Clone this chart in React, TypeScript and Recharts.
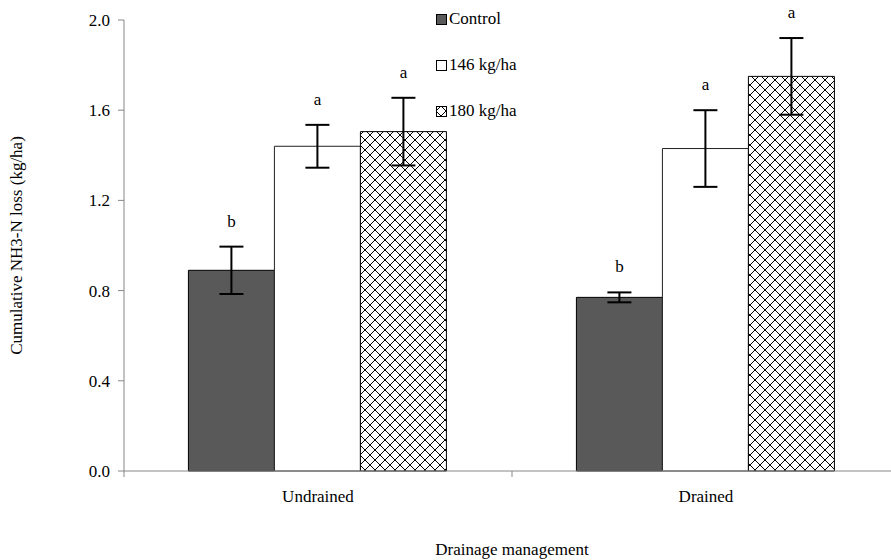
import React from "react";
import {
  BarChart,
  Bar,
  XAxis,
  YAxis,
  ErrorBar,
  LabelList,
} from "recharts";

const categories = ["Undrained", "Drained"];
const controlValues = [0.89, 0.77];
const controlErrors = [0.105, 0.022];
const n146Values = [1.44, 1.43];
const n146Errors = [0.095, 0.17];
const n180Values = [1.505, 1.75];
const n180Errors = [0.15, 0.17];
const controlLetters = ["b", "b"];
const n146Letters = ["a", "a"];
const n180Letters = ["a", "a"];
const yTicks = [0, 0.4, 0.8, 1.2, 1.6, 2.0];

const data = categories.map((name, i) => ({
  name,
  control: controlValues[i],
  controlErr: controlErrors[i],
  n146: n146Values[i],
  n146Err: n146Errors[i],
  n180: n180Values[i],
  n180Err: n180Errors[i],
}));

const FONT = "Liberation Serif";
const AXIS = "#868686";

// letter sits above the top of the error bar
const makeLetter = (letters: string[], errors: number[]) => (props: any) => {
  const { x, y, width, height, value, index } = props;
  const pxPerUnit = value ? height / value : 0;
  const top = y - errors[index] * pxPerUnit;
  return (
    <text
      x={x + width / 2}
      y={top - 20}
      textAnchor="middle"
      fontFamily={FONT}
      fontSize={17}
      fill="#000"
    >
      {letters[index]}
    </text>
  );
};

const XTick = (props: any) => {
  const { x, y, payload, index, visibleTicksCount } = props;
  const off = payload?.offset ?? 0;
  const axisY = y - 6;
  return (
    <g>
      <line x1={x - off} y1={axisY} x2={x - off} y2={axisY + 6} stroke={AXIS} />
      {index === (visibleTicksCount ?? categories.length) - 1 && (
        <line x1={x + off} y1={axisY} x2={x + off} y2={axisY + 6} stroke={AXIS} />
      )}
      <text
        x={x}
        y={axisY + 25}
        dy="0.35em"
        textAnchor="middle"
        fontFamily={FONT}
        fontSize={17}
        fill="#000"
      >
        {payload.value}
      </text>
    </g>
  );
};

const legendItems = [
  { label: "Control", fill: "#595959" },
  { label: "146 kg/ha", fill: "#ffffff" },
  { label: "180 kg/ha", fill: "url(#lattice)" },
];

const LegendBox = () => (
  <div
    style={{
      position: "absolute",
      left: 436,
      top: -4,
      fontFamily: FONT,
      fontSize: 17,
      color: "#000",
    }}
  >
    {legendItems.map((it) => (
      <div
        key={it.label}
        style={{ display: "flex", alignItems: "center", height: 46 }}
      >
        <svg width={11} height={11} style={{ marginRight: 2 }}>
          <rect x={0.5} y={0.5} width={10} height={10} fill={it.fill} stroke="#000" />
        </svg>
        <span style={{ fontFamily: FONT }}>{it.label}</span>
      </div>
    ))}
  </div>
);

export default function App() {
  return (
    <div
      style={{
        position: "absolute",
        left: 0,
        top: 0,
        width: 891,
        height: 560,
        overflow: "hidden",
        background: "#fff",
        fontFamily: FONT,
      }}
    >
      <svg width={0} height={0} style={{ position: "absolute" }}>
        <defs>
          <pattern id="lattice" width={10} height={10} patternUnits="userSpaceOnUse">
            <rect width={10} height={10} fill="#fff" />
            <path
              d="M0 5 L5 0 L10 5 L5 10 Z"
              fill="none"
              stroke="#000"
              strokeWidth={1}
              shapeRendering="crispEdges"
            />
          </pattern>
        </defs>
      </svg>
      <BarChart
        width={910}
        height={560}
        data={data}
        margin={{ top: 20, right: 10, left: 64, bottom: 59 }}
        barCategoryGap="16.6%"
        barGap={0}
      >
        <XAxis
          dataKey="name"
          stroke={AXIS}
          tickLine={false}
          tickSize={6}
          tickMargin={0}
          tick={<XTick />}
          interval={0}
          label={(p: any) => {
            const vb = p.viewBox;
            return (
              <text
                x={vb.x + vb.width / 2}
                y={549}
                textAnchor="middle"
                dy="0.35em"
                fontFamily={FONT}
                fontSize={17}
                fill="#000"
              >
                Drainage management
              </text>
            );
          }}
        />
        <YAxis
          width={60}
          domain={[0, 2]}
          ticks={yTicks}
          stroke={AXIS}
          tickSize={6}
          tickMargin={8}
          tickFormatter={(v: number) => v.toFixed(1)}
          tick={{ fill: "#000", fontFamily: FONT, fontSize: 17 }}
          label={(p: any) => {
            const vb = p.viewBox;
            const cy = vb.y + vb.height / 2;
            return (
              <text
                x={16}
                y={cy}
                transform={`rotate(-90 16 ${cy})`}
                textAnchor="middle"
                dy="0.35em"
                fontFamily={FONT}
                fontSize={17}
                fill="#000"
              >
                Cumulative NH3-N loss (kg/ha)
              </text>
            );
          }}
        />
        <Bar dataKey="control" name="Control" fill="#595959" stroke="#000" isAnimationActive={false}>
          <ErrorBar dataKey="controlErr" width={12} stroke="#000" strokeWidth={2} />
          <LabelList dataKey="control" content={makeLetter(controlLetters, controlErrors)} />
        </Bar>
        <Bar dataKey="n146" name="146 kg/ha" fill="#fff" stroke="#222" isAnimationActive={false}>
          <ErrorBar dataKey="n146Err" width={12} stroke="#000" strokeWidth={2} />
          <LabelList dataKey="n146" content={makeLetter(n146Letters, n146Errors)} />
        </Bar>
        <Bar dataKey="n180" name="180 kg/ha" fill="url(#lattice)" stroke="#000" isAnimationActive={false}>
          <ErrorBar dataKey="n180Err" width={12} stroke="#000" strokeWidth={2} />
          <LabelList dataKey="n180" content={makeLetter(n180Letters, n180Errors)} />
        </Bar>
      </BarChart>
      <LegendBox />
    </div>
  );
}
